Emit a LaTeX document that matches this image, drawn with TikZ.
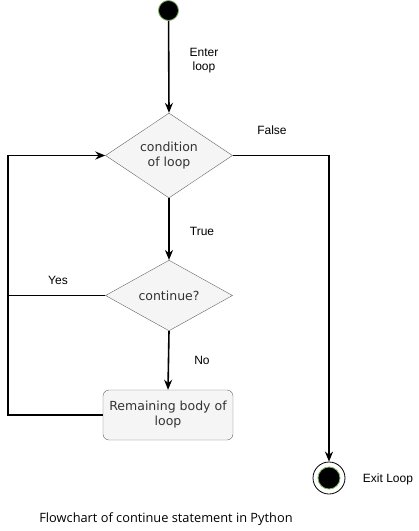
\documentclass[tikz,border=0pt]{standalone}
\usepackage{fontspec}
\setmainfont{DejaVu Sans}
\newfontfamily\lblfont{Liberation Sans}
\newfontfamily\capfont{Open Sans}
\usetikzlibrary{shapes.geometric,arrows.meta}
\definecolor{shapefill}{HTML}{F5F5F5}
\definecolor{shapeline}{HTML}{666666}
\definecolor{shapetext}{HTML}{333333}
\definecolor{dotline}{HTML}{82B366}
\begin{document}
\begin{tikzpicture}[x=1pt,y=-1pt,
  decision/.style={diamond,draw=shapeline,fill=shapefill,text=shapetext,inner sep=0pt,
    minimum width=127pt,minimum height=69pt,align=center,font=\fontsize{12.5}{15}\selectfont},
  bodybox/.style={rectangle,rounded corners=6pt,draw=shapeline,fill=shapefill,text=shapetext,
    minimum width=130pt,minimum height=50pt,align=center,font=\fontsize{12.5}{15}\selectfont},
  flow/.style={line width=1.6pt,-{Stealth[length=10pt,width=8pt]}},
  plain/.style={line width=1.6pt},
  lbl/.style={font=\lblfont\fontsize{12}{14}\selectfont,align=center},
]
\useasboundingbox (0,0) rectangle (419,531);
\node[circle,draw=dotline,fill=black,minimum size=20pt,inner sep=0pt,line width=0.8pt] (start) at (168.5,10.5) {};
\node[decision] (d1) at (169,155.5) {condition\\of loop};
\node[decision] (d2) at (169,295.5) {continue?};
\node[bodybox] (body) at (168,415) {Remaining body of\\loop};
\node[circle,draw=black,fill=white,minimum size=32pt,inner sep=0pt,line width=0.8pt] (endo) at (329,478) {};
\node[circle,draw=dotline,fill=black,minimum size=22pt,inner sep=0pt,line width=0.8pt] (endi) at (329,478) {};

\coordinate (c1) at (8,155.5);
\coordinate (c2) at (8,295.5);
\coordinate (c3) at (8,415);
\coordinate (c4) at (329,155.5);

\draw[flow] (start) -- (d1.north);
\draw[flow] (d1.south) -- (d2.north);
\draw[flow] (d2.south) -- (body.north);
\draw[flow] (body.west) -- (c3) -- (c1) -- (d1.west);
\draw[plain] (d2.west) -- (c2);
\draw[flow] (d1.east) -- (c4) -- (endo.north);

\node[lbl] (lenter) at (204,61) {Enter\\loop};
\node[lbl] (lfalse) at (272,130) {False};
\node[lbl] (ltrue) at (202,231) {True};
\node[lbl] (lyes) at (58,280) {Yes};
\node[lbl] (lno) at (202,360) {No};
\node[lbl] (lexit) at (388,479) {Exit Loop};
\node[font=\capfont\fontsize{12.8}{15}\selectfont] (cap) at (166,519) {Flowchart of continue statement in Python};
\end{tikzpicture}
\end{document}
